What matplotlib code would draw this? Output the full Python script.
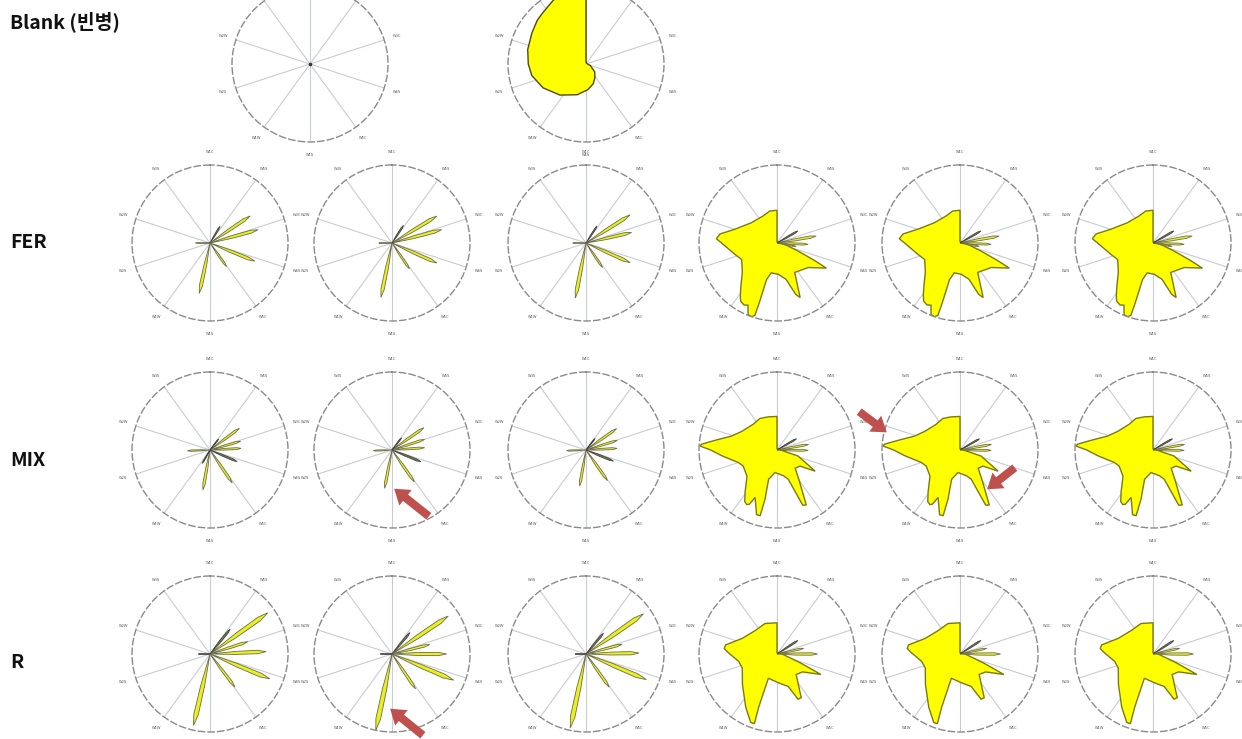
import numpy as np
import matplotlib
matplotlib.use("Agg")
import matplotlib.pyplot as plt
from matplotlib.patches import FancyArrowPatch, ArrowStyle

plt.rcParams['font.family'] = ['Noto Sans CJK KR', 'DejaVu Sans']

W, H = 1242, 739

# ---------------- data ----------------
row_labels = ["Blank (빈병)", "FER", "MIX", "R"]
sensors = ["W1C", "W5S", "W3C", "W6S", "W5C", "W1S", "W1W", "W2S", "W2W", "W3S"]

# filled outline for the second blank bottle: (bearing deg, response)
blank_ang = [0.5, 90, 110, 132, 147, 160, 176, 196, 220, 241, 258, 270,
             284, 300, 312, 320, 333, 345, 360, 360]
blank_r = [0.02, 0.02, 0.06, 0.15, 0.21, 0.27, 0.33, 0.41, 0.52, 0.63, 0.71,
           0.74, 0.77, 0.80, 0.84, 0.86, 0.92, 0.96, 0.98, 0.02]

fer_ang = [0, 60, 95, 108, 111, 115, 117, 122, 128, 149, 157, 160, 166, 178,
           191, 196, 196.5, 197, 199, 202, 205, 208, 212, 215, 220, 230, 245,
           255, 270, 274, 279, 288, 308, 333, 347, 360, 360]
fer_r = [0.02, 0.03, 0.08, 0.19, 0.29, 0.53, 0.71, 0.60, 0.51, 0.44, 0.76,
         0.70, 0.48, 0.40, 0.39, 0.49, 0.80, 0.97, 1.00, 0.99, 0.88, 0.90,
         0.88, 0.82, 0.72, 0.58, 0.50, 0.56, 0.71, 0.78, 0.74, 0.57, 0.42,
         0.39, 0.42, 0.42, 0.02]

mix_ang = [0, 60, 95, 106, 119, 125, 135, 145, 152, 155, 159, 166, 185, 196,
           193.7, 194.4, 197.5, 204.8, 207, 209, 212, 217, 229, 244.6, 252,
           264, 270, 273, 274.4, 279, 287, 298, 317, 331.5, 345, 360, 360]
mix_r = [0.02, 0.03, 0.06, 0.28, 0.56, 0.36, 0.33, 0.51, 0.80, 0.78, 0.40,
         0.34, 0.29, 0.39, 0.65, 0.87, 0.87, 0.67, 0.78, 0.80, 0.78, 0.68,
         0.51, 0.48, 0.52, 0.71, 0.85, 0.99, 0.97, 0.80, 0.61, 0.51, 0.45,
         0.46, 0.44, 0.43, 0.02]

r_ang = [0, 60, 95, 111, 115, 125, 137, 151, 155, 161, 177, 199.6, 199, 198,
         201, 210.5, 228.7, 248, 259, 272.7, 276, 280, 294, 317.5, 338.6,
         360, 360]
r_r = [0.02, 0.03, 0.08, 0.33, 0.62, 0.40, 0.36, 0.64, 0.64, 0.44, 0.37,
       0.33, 0.72, 0.94, 0.94, 0.79, 0.59, 0.48, 0.50, 0.64, 0.68, 0.67, 0.49,
       0.41, 0.42, 0.40, 0.02]

# individual sensor peaks: (bearing deg, response, dark?)
fer_peaks = [
    [(31, 0.25, 1), (56, 0.62, 0), (74.6, 0.64, 0), (112, 0.62, 0), (145, 0.37, 0), (192, 0.66, 0), (270, 0.19, 0)],
    [(33, 0.27, 1), (59, 0.67, 0), (75, 0.66, 0), (114, 0.63, 0), (146, 0.40, 0), (191.5, 0.71, 0), (270, 0.17, 0)],
    [(33, 0.26, 1), (57.5, 0.67, 0), (77, 0.60, 0), (114, 0.62, 0), (146, 0.38, 0), (191, 0.72, 0), (270, 0.17, 0)],
]
mix_peaks = [
    [(38, 0.18, 1), (53.5, 0.47, 0), (74, 0.41, 0), (87, 0.40, 0), (113, 0.38, 1), (146, 0.51, 0), (190, 0.52, 0), (268, 0.29, 0), (210, 0.20, 1)],
    [(38, 0.20, 1), (55, 0.50, 0), (72, 0.44, 0), (86, 0.42, 0), (112, 0.40, 1), (145, 0.50, 0), (191, 0.50, 0), (268, 0.24, 0)],
    [(38, 0.19, 1), (55, 0.48, 0), (73, 0.42, 0), (87, 0.40, 0), (112, 0.38, 1), (145, 0.48, 0), (190, 0.47, 0), (268, 0.25, 0)],
]
r_peaks = [
    [(39, 0.41, 1), (54.5, 0.91, 0), (72, 0.51, 0), (87.6, 0.72, 0), (112.6, 0.83, 0), (143, 0.53, 0), (193, 0.94, 0), (270, 0.15, 1)],
    [(40, 0.36, 1), (56, 0.87, 0), (76, 0.50, 0), (90, 0.70, 0), (113, 0.86, 0), (146, 0.54, 0), (192, 1.00, 0), (270, 0.15, 1)],
    [(40, 0.35, 1), (55, 0.90, 0), (75, 0.48, 0), (89, 0.68, 0), (113, 0.84, 0), (145, 0.52, 0), (192, 0.97, 0), (270, 0.14, 1)],
]
fer_big_peaks = [(60, 0.31, 1), (80, 0.51, 0), (92.5, 0.40, 0), (100, 0.25, 0)]
mix_big_peaks = [(60, 0.29, 1), (80, 0.41, 0), (90.7, 0.40, 0)]
r_big_peaks = [(57, 0.32, 1), (78, 0.35, 0), (90, 0.52, 0)]

# ---------------- layout ----------------
R_PX = 78
col_x = [210, 392, 586, 777, 960, 1153]
row_y = {"FER": 243, "MIX": 450, "R": 654}
blank_centers = [(310, 64), (586, 64)]

YELLOW = "#ffff00"
OLIVE = "#7a7a10"
PETAL_FILL = "#eaf020"
PETAL_EDGE = "#6c6c4c"
DARK_FILL = "#7a7a58"
DARK_EDGE = "#44443a"
PETAL_HW = 3.4  # half width of a peak, degrees


def polar_panel(fig, cx, cy):
    rect = [(cx - R_PX) / W, (H - cy - R_PX) / H, 2 * R_PX / W, 2 * R_PX / H]
    ax = fig.add_axes(rect, projection="polar")
    ax.set_theta_zero_location("N")
    ax.set_theta_direction(-1)
    ax.set_ylim(0, 1)
    ax.set_yticks([])
    ax.set_xticks(np.deg2rad(np.arange(0, 360, 36)))
    ax.set_xticklabels(sensors, fontsize=2.6, color="#555555",
                       family=["DejaVu Sans"])
    ax.tick_params(axis="x", pad=-1)
    ax.xaxis.grid(True, color="#c8ccd4", lw=0.8)
    ax.yaxis.grid(False)
    sp = ax.spines["polar"]
    sp.set_color("#8a8a8a")
    sp.set_linewidth(1.0)
    sp.set_linestyle((0, (4.5, 2.5)))
    ax.set_facecolor("none")
    return ax


def draw_peaks(ax, peaks):
    hw = np.deg2rad(PETAL_HW)
    for bearing, val, dark in peaks:
        th = np.deg2rad(bearing)
        thetas = [th, th - hw, th - 0.6 * hw, th, th + 0.6 * hw, th + hw, th]
        rs = [0, 0.45 * val, 0.85 * val, val, 0.85 * val, 0.45 * val, 0]
        ax.fill(thetas, rs,
                facecolor=DARK_FILL if dark else PETAL_FILL,
                edgecolor=DARK_EDGE if dark else PETAL_EDGE,
                lw=0.6, zorder=3 + dark)


def draw_outline(ax, ang, r, edge=OLIVE):
    ax.fill(np.deg2rad(ang), r, facecolor=YELLOW, edgecolor=edge,
            lw=1.0, zorder=2)


fig = plt.figure(figsize=(W / 100, H / 100), dpi=100)
fig.patch.set_facecolor("white")

# Blank row
ax = polar_panel(fig, *blank_centers[0])
ax.plot([0], [0], marker="o", ms=1.5, color="#333333", zorder=4)
ax = polar_panel(fig, *blank_centers[1])
draw_outline(ax, blank_ang, blank_r, edge="#4a4a10")

outlines = {"FER": (fer_ang, fer_r, fer_big_peaks),
            "MIX": (mix_ang, mix_r, mix_big_peaks),
            "R": (r_ang, r_r, r_big_peaks)}
peaks_by_row = {"FER": fer_peaks, "MIX": mix_peaks, "R": r_peaks}

for name in ["FER", "MIX", "R"]:
    cy = row_y[name]
    for c in range(3):
        ax = polar_panel(fig, col_x[c], cy)
        draw_peaks(ax, peaks_by_row[name][c])
    ang, rr, bp = outlines[name]
    for c in range(3, 6):
        ax = polar_panel(fig, col_x[c], cy)
        draw_outline(ax, ang, rr)
        draw_peaks(ax, bp)

# row titles
label_y = [22, 242, 460, 662]
for txt, y in zip(row_labels, label_y):
    fig.text(10 / W, 1 - y / H, txt, fontsize=14, fontweight="bold",
             va="center", ha="left", color="#111111")

# callout arrows (tail -> head, pixel coordinates from top-left)
arrows = [((431, 518), (392, 487)),
          ((857, 410), (889, 434)),
          ((1017, 466), (985, 491)),
          ((425, 737), (388, 707))]
for (x1, y1), (x2, y2) in arrows:
    fig.add_artist(FancyArrowPatch(
        (x1 / W, 1 - y1 / H), (x2 / W, 1 - y2 / H),
        transform=fig.transFigure,
        arrowstyle=ArrowStyle.Simple(head_length=0.8, head_width=1.1,
                                     tail_width=0.45),
        mutation_scale=13, color="#c0504d", lw=0, zorder=10))

fig.savefig("out.png", dpi=100)
